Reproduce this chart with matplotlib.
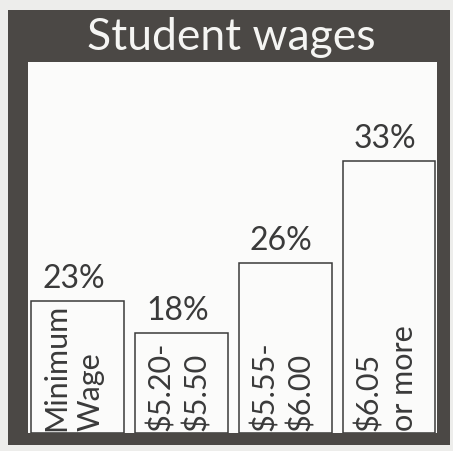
import matplotlib
matplotlib.use("Agg")
import matplotlib.pyplot as plt
from matplotlib.patches import Rectangle

categories = ["Minimum\nWage", "$5.20-\n$5.50", "$5.55-\n$6.00", "$6.05\nor more"]
shares = [23, 18, 26, 33]
# drawn bar heights (the original art is not to scale)
bar_heights = [132, 100, 170, 272]
title = "Student wages"

W, H = 453, 451
FRAME = "#4b4845"
INK = "#3a3a3a"
FONT = ["Lato", "DejaVu Sans"]

fig = plt.figure(figsize=(W / 100, H / 100), dpi=100)
fig.patch.set_facecolor("#ededeb")

# dark frame behind the white panel
frame = Rectangle((8 / W, 1 - 445 / H), (450 - 8) / W, (445 - 10) / H,
                  transform=fig.transFigure, facecolor=FRAME,
                  edgecolor="none", zorder=-5)
fig.add_artist(frame)
fig.text(231 / W, 1 - 50 / H, title, color="#f5f5f3", fontsize=32,
         family=FONT, ha="center", va="baseline")

left, right, top, bottom = 28, 437, 62, 433
ax = fig.add_axes([left / W, 1 - bottom / H, (right - left) / W, (bottom - top) / H])
ax.set_zorder(1)
ax.set_facecolor("#fbfbfa")
ax.set_xlim(-0.476, 3.457)
ax.set_ylim(0, bottom - top)
ax.set_xticks([])
ax.set_yticks([])
for sp in ax.spines.values():
    sp.set_visible(False)

x = list(range(len(categories)))
width = 0.885
ax.bar(x, bar_heights, width=width, color="#fbfbfa", edgecolor=INK, linewidth=1.1)

for xi, h, s, cat in zip(x, bar_heights, shares, categories):
    ax.text(xi - 0.04, h + 7, f"{s}%", ha="center", va="bottom", fontsize=23,
            color=INK, family=FONT)
    ax.text(xi - width / 2 + 0.1, 2, cat, rotation=90, ha="left", va="bottom",
            multialignment="left", fontsize=22, color=INK, family=FONT,
            linespacing=1.3)

fig.savefig("out.png", dpi=100, facecolor=fig.get_facecolor())
